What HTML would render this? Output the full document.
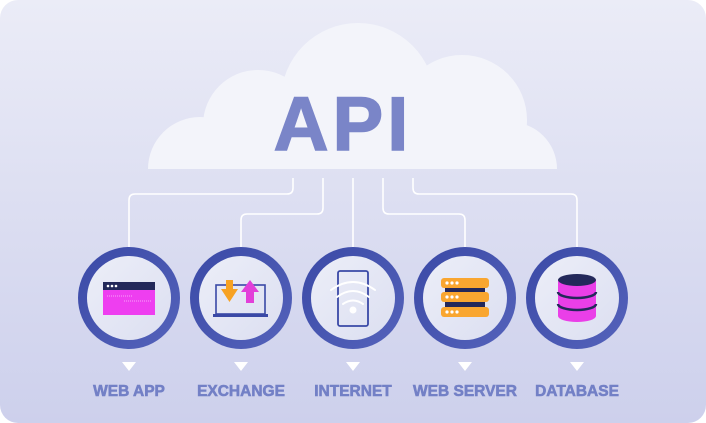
<!DOCTYPE html>
<html><head><meta charset="utf-8"><style>
html,body{margin:0;padding:0;background:#fff;}
svg{display:block;}
</style></head><body>
<svg width="706" height="423" viewBox="0 0 706 423" xmlns="http://www.w3.org/2000/svg">
<defs>
<linearGradient id="bg" x1="0" y1="0" x2="0" y2="1">
<stop offset="0" stop-color="#ebecf7"/><stop offset="1" stop-color="#cdd0ec"/>
</linearGradient>
<linearGradient id="ring" x1="0" y1="0" x2="1" y2="1">
<stop offset="0" stop-color="#3a49a6"/><stop offset="1" stop-color="#5563bb"/>
</linearGradient>
<linearGradient id="inner" x1="0" y1="0" x2="1" y2="1">
<stop offset="0" stop-color="#eceef8"/><stop offset="1" stop-color="#dcdff1"/>
</linearGradient>
<clipPath id="cc"><rect x="0" y="0" width="706" height="169"/></clipPath>
</defs>
<rect x="0" y="0" width="706" height="423" rx="18" fill="url(#bg)"/>
<!-- cloud -->
<g fill="#f3f4fa" clip-path="url(#cc)">
<circle cx="200" cy="169" r="52"/>
<circle cx="258" cy="125" r="55"/>
<circle cx="358" cy="100" r="77"/>
<circle cx="462" cy="120" r="65"/>
<circle cx="510" cy="169" r="47"/>
<rect x="200" y="120" width="310" height="49"/>
</g>
<text x="343" y="150" text-anchor="middle" font-family="Liberation Sans, sans-serif" font-weight="bold" font-size="76" letter-spacing="4" fill="#7a85c8" stroke="#7a85c8" stroke-width="1.5">API</text>
<!-- connectors -->
<g fill="none" stroke="#fff" stroke-width="1.6">
<path d="M293 178 V188 Q293 194 287 194 H135 Q129 194 129 200 V247"/>
<path d="M323 178 V208 Q323 214 317 214 H247 Q241 214 241 220 V247"/>
<path d="M353 178 V247"/>
<path d="M383 178 V208 Q383 214 389 214 H459 Q465 214 465 220 V247"/>
<path d="M413 178 V188 Q413 194 419 194 H571 Q577 194 577 200 V247"/>
</g>
<!-- circles -->
<g>
<circle cx="129" cy="298" r="51" fill="url(#ring)"/><circle cx="129" cy="298" r="42" fill="url(#inner)"/>
<circle cx="241" cy="298" r="51" fill="url(#ring)"/><circle cx="241" cy="298" r="42" fill="url(#inner)"/>
<circle cx="353" cy="298" r="51" fill="url(#ring)"/><circle cx="353" cy="298" r="42" fill="url(#inner)"/>
<circle cx="465" cy="298" r="51" fill="url(#ring)"/><circle cx="465" cy="298" r="42" fill="url(#inner)"/>
<circle cx="577" cy="298" r="51" fill="url(#ring)"/><circle cx="577" cy="298" r="42" fill="url(#inner)"/>
</g>
<!-- web app icon -->
<rect x="103" y="282" width="52" height="33" fill="#ee3ef0"/>
<rect x="103" y="282" width="52" height="8" fill="#23285a"/>
<circle cx="108" cy="286" r="1.3" fill="#fff"/><circle cx="112" cy="286" r="1.3" fill="#fff"/><circle cx="116" cy="286" r="1.3" fill="#fff"/>
<line x1="107" y1="296" x2="132" y2="296" stroke="#fff" stroke-width="0.8" stroke-dasharray="1 1" opacity="0.7"/>
<line x1="124" y1="301" x2="151" y2="301" stroke="#fff" stroke-width="0.8" stroke-dasharray="1 1" opacity="0.7"/>
<!-- exchange icon -->
<rect x="216" y="285" width="49" height="29" fill="none" stroke="#3a49a6" stroke-width="1.6"/>
<rect x="213" y="314" width="55" height="3" fill="#3a49a6"/>
<path d="M226 280 H233 V289 H238 L229.5 302 L221 289 H226 Z" fill="#f7a223"/>
<path d="M250 280 L259 292 H254 V303 H246 V292 H241 Z" fill="#e23fd9"/>
<!-- internet icon -->
<rect x="338" y="271" width="30" height="55" rx="2" fill="none" stroke="#3a49a6" stroke-width="1.8"/>
<g fill="none" stroke="#fff" stroke-width="2" stroke-linecap="round">
<path d="M331 290 Q353 274 375 290"/>
<path d="M337 297 Q353 285 369 297"/>
<path d="M343 304 Q353 297 363 304"/>
</g>
<circle cx="353" cy="310" r="3.5" fill="#fff"/>
<!-- web server icon -->
<rect x="445" y="285" width="40" height="24" fill="#23285a"/>
<rect x="441" y="278" width="48" height="10" rx="3" fill="#f9a630"/>
<rect x="441" y="292" width="48" height="10" rx="3" fill="#f9a630"/>
<rect x="441" y="307" width="48" height="10" rx="3" fill="#f9a630"/>
<g fill="#fff">
<circle cx="447" cy="283" r="1.6"/><circle cx="452" cy="283" r="1.6"/><circle cx="457" cy="283" r="1.6"/>
<circle cx="447" cy="297" r="1.6"/><circle cx="452" cy="297" r="1.6"/><circle cx="457" cy="297" r="1.6"/>
<circle cx="447" cy="312" r="1.6"/><circle cx="452" cy="312" r="1.6"/><circle cx="457" cy="312" r="1.6"/>
</g>
<!-- database icon -->
<path d="M558 280 V316 A19 6 0 0 0 596 316 V280 Z" fill="#ea3fe8"/>
<g fill="none" stroke="#23285a" stroke-width="2.5">
<path d="M558 292 A19 6 0 0 0 596 292"/>
<path d="M558 304 A19 6 0 0 0 596 304"/>
</g>
<ellipse cx="577" cy="280" rx="19" ry="6" fill="#23285a"/>
<!-- triangles -->
<g fill="#fff">
<path d="M122 362 H136 L129 371 Z"/>
<path d="M234 362 H248 L241 371 Z"/>
<path d="M346 362 H360 L353 371 Z"/>
<path d="M458 362 H472 L465 371 Z"/>
<path d="M570 362 H584 L577 371 Z"/>
</g>
<!-- labels -->
<g font-family="Liberation Sans, sans-serif" font-weight="bold" font-size="15.5" fill="#7380c6" stroke="#7380c6" stroke-width="0.6" text-anchor="middle">
<text x="129" y="396">WEB APP</text>
<text x="241" y="396">EXCHANGE</text>
<text x="353" y="396">INTERNET</text>
<text x="465" y="396">WEB SERVER</text>
<text x="577" y="396">DATABASE</text>
</g>
</svg>
</body></html>
